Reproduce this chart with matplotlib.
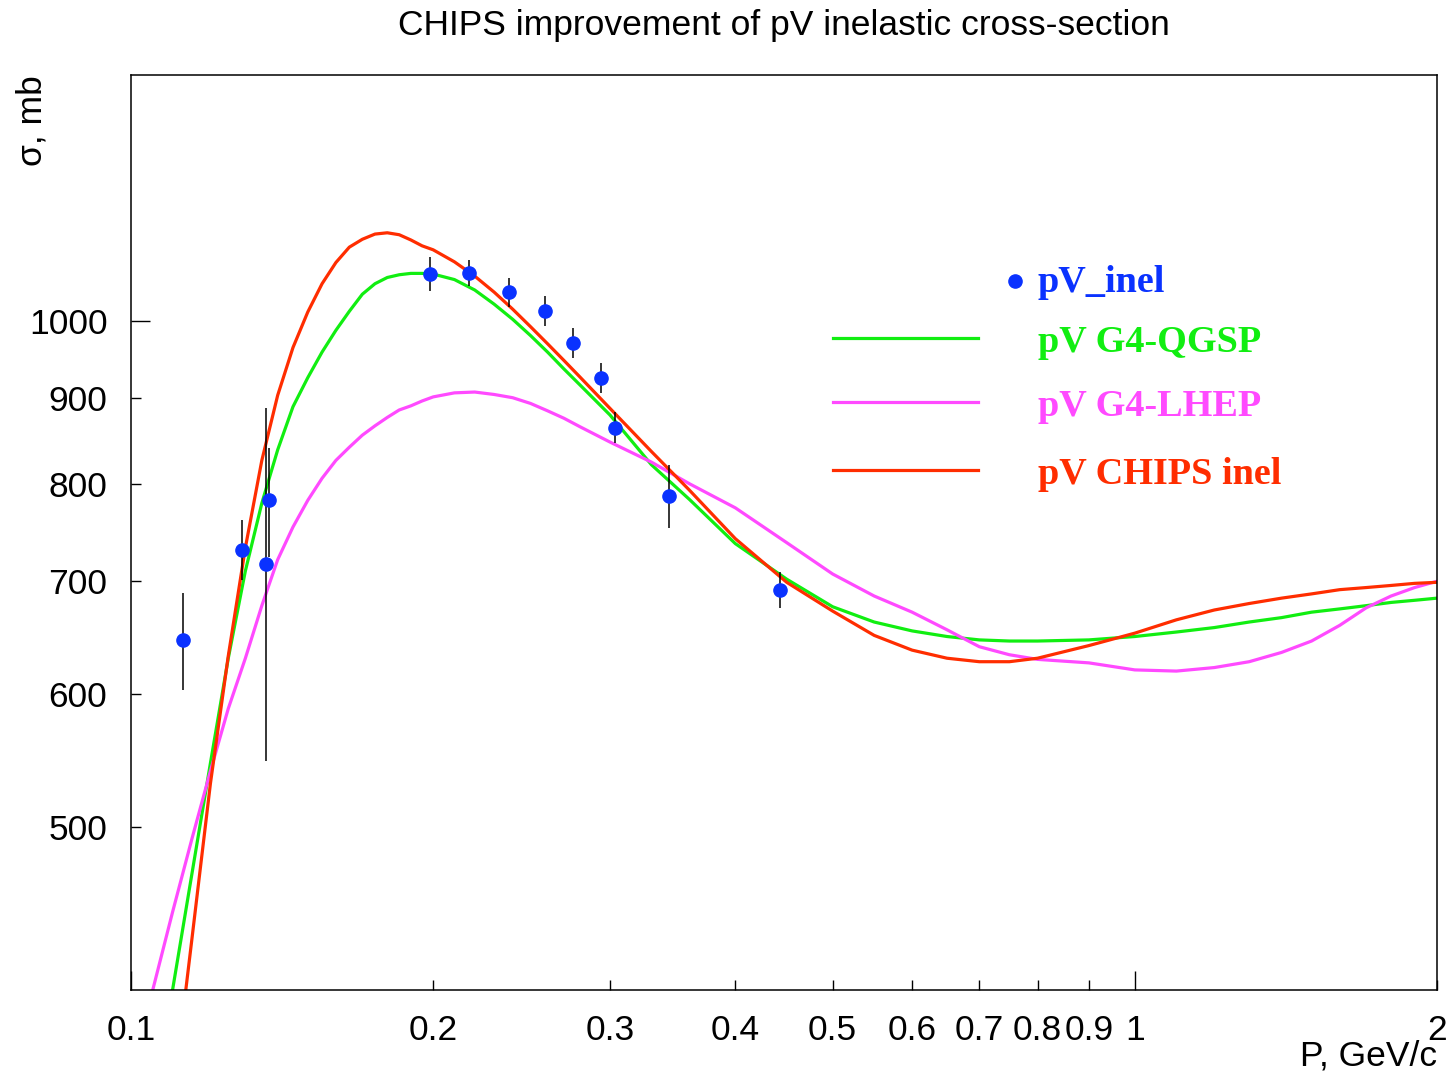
import matplotlib
matplotlib.use("Agg")
import matplotlib.pyplot as plt

# data points: pV inelastic cross-section (mb) vs momentum P (GeV/c)
p_data = [0.1127, 0.1289, 0.1363, 0.1371, 0.1987, 0.2171, 0.2381,
          0.2583, 0.2758, 0.2939, 0.3035, 0.3436, 0.4430]
sig_data = [646, 731, 717, 782, 1066, 1068, 1040, 1014, 970, 925, 864, 787, 692]
sig_err = [43, 30, 170, 58, 25, 19, 21, 21, 20, 19, 18, 34, 17]

# model curves sampled on a common momentum grid
p_grid = [0.105, 0.11, 0.115, 0.12, 0.125, 0.13, 0.135, 0.14, 0.145, 0.15,
          0.155, 0.16, 0.165, 0.17, 0.175, 0.18, 0.185, 0.19, 0.195, 0.2,
          0.21, 0.22, 0.23, 0.24, 0.25, 0.26, 0.27, 0.28, 0.3, 0.33, 0.36,
          0.4, 0.45, 0.5, 0.55, 0.6, 0.65, 0.7, 0.75, 0.8, 0.9, 1.0, 1.1,
          1.2, 1.3, 1.4, 1.5, 1.6, 1.7, 1.8, 1.9, 2.0]
sig_qgsp = [340, 400, 469, 546, 630, 710, 779, 838, 889, 925,
            958, 987, 1013, 1037, 1052, 1061, 1065, 1067, 1067, 1066,
            1058, 1043, 1023, 1002, 980, 958, 936, 916, 879, 821, 783,
            737, 702, 676, 662, 654, 649, 646, 645, 645, 646, 649, 653,
            657, 662, 666, 671, 674, 677, 680, 682, 684]
sig_lhep = [399, 445, 492, 540, 588, 630, 677, 721, 754, 782,
            806, 826, 841, 855, 866, 876, 885, 890, 896, 901,
            906, 907, 904, 900, 893, 884, 875, 865, 847, 824, 800,
            774, 738, 707, 686, 671, 655, 640, 633, 629, 626, 620, 619,
            622, 627, 635, 645, 659, 675, 686, 694, 700]
sig_chips = [273, 344, 429, 531, 632, 733, 826, 903, 964, 1012,
             1052, 1083, 1106, 1118, 1126, 1128, 1125, 1117, 1108, 1102,
             1084, 1063, 1040, 1016, 992, 969, 947, 926, 887, 836, 793,
             742, 699, 672, 650, 637, 630, 627, 627, 630, 641, 652, 664,
             673, 679, 684, 688, 692, 694, 696, 698, 699]

x_major = [0.1, 1]
x_minor = [0.2, 0.3, 0.4, 0.5, 0.6, 0.7, 0.8, 0.9, 2]
y_major = [1000]
y_minor = [500, 600, 700, 800, 900]

BLUE, GREEN, MAGENTA, RED = "#0a32ff", "#11ee11", "#ff4aff", "#ff2d00"
SANS = ["Liberation Sans", "DejaVu Sans"]
FS = 25.5

plt.rcParams["font.family"] = SANS

fig = plt.figure(figsize=(14.52, 10.76), dpi=100)
ax = fig.add_axes([131 / 1452, 1 - 990 / 1076, 1306 / 1452, 915 / 1076])
ax.set_xscale("log")
ax.set_yscale("log")

ax.plot(p_grid, sig_qgsp, color=GREEN, lw=2.3)
ax.plot(p_grid, sig_lhep, color=MAGENTA, lw=2.3)
ax.plot(p_grid, sig_chips, color=RED, lw=2.3)
ax.errorbar(p_data, sig_data, yerr=sig_err, fmt="o", color=BLUE, ms=9.5,
            ecolor="black", elinewidth=1.1, capsize=0, zorder=5)

ax.set_xlim(0.1, 2)
ax.set_ylim(400, 1400)

ax.set_xticks(x_major, labels=[f"{v:g}" for v in x_major])
ax.set_xticks(x_minor, labels=[f"{v:g}" for v in x_minor], minor=True)
ax.set_yticks(y_major, labels=[str(v) for v in y_major])
ax.set_yticks(y_minor, labels=[str(v) for v in y_minor], minor=True)
ax.tick_params(which="both", direction="in", labelsize=FS, width=1, pad=17)
ax.tick_params(which="major", length=14)
ax.tick_params(which="minor", length=7)
for s in ax.spines.values():
    s.set_linewidth(1.1)

fig.text(784 / 1452, 1 - 25 / 1076, "CHIPS improvement of pV inelastic cross-section",
         ha="center", va="center", fontsize=FS)
fig.text(32 / 1452, 1 - 75 / 1076, "σ, mb", rotation=90, ha="center", va="top",
         fontsize=FS)
fig.text(1437 / 1452, 1 - 1072 / 1076, "P, GeV/c", ha="right", va="bottom",
         fontsize=FS)

# hand-placed legend, as in the original
leg = dict(transform=ax.transAxes, fontsize=27.5, fontweight="bold",
           family=["Liberation Serif", "DejaVu Serif"], ha="left", va="baseline")
x0, x1, xt = (833 - 131) / 1306, (978 - 131) / 1306, (1038 - 131) / 1306
ax.plot([(1015 - 131) / 1306], [(990 - 281) / 915], "o", color=BLUE, ms=9.5,
        transform=ax.transAxes, clip_on=False)
ax.text(xt, (990 - 292) / 915, "pV_inel", color=BLUE, **leg)
for y_line, y_txt, c, name in [(338, 352, GREEN, "pV G4-QGSP"),
                               (402, 416, MAGENTA, "pV G4-LHEP"),
                               (470, 484, RED, "pV CHIPS inel")]:
    ax.plot([x0, x1], [(990 - y_line) / 915] * 2, color=c, lw=2.3,
            transform=ax.transAxes)
    ax.text(xt, (990 - y_txt) / 915, name, color=c, **leg)

fig.savefig("out.png", dpi=100)
